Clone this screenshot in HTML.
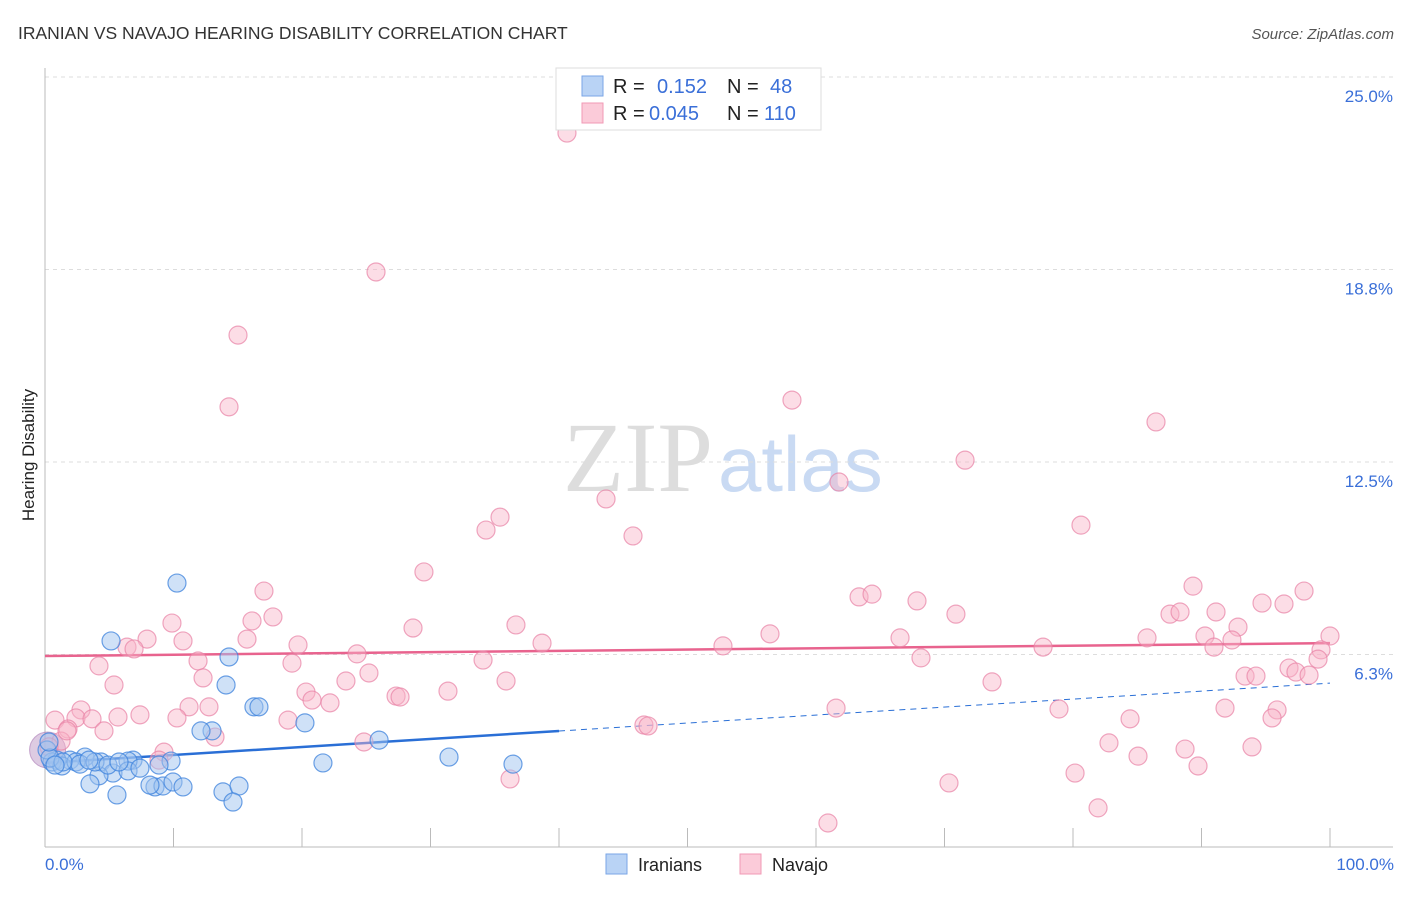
<!DOCTYPE html>
<html><head><meta charset="utf-8"><style>
body{margin:0;background:#fff;font-family:"Liberation Sans",sans-serif}
svg text{font-family:"Liberation Sans",sans-serif}
</style></head><body>
<svg id="chart" width="1406" height="892" xmlns="http://www.w3.org/2000/svg">
<text x="18" y="39" font-size="17.5" fill="#333">IRANIAN VS NAVAJO HEARING DISABILITY CORRELATION CHART</text>
<text x="1394" y="39" font-size="15" fill="#555" text-anchor="end" font-style="italic">Source: ZipAtlas.com</text>
<g>
<text x="713" y="491" font-size="100" fill="#ddd" text-anchor="end" style="font-family:'Liberation Serif',serif">ZIP</text>
<text x="718" y="491" font-size="78" fill="#c9daf3">atlas</text>
</g>
<g id="grid"></g>
<g id="axes"></g>
<g id="trends"></g>
<g id="pts"></g>
<text transform="translate(34,455) rotate(-90)" font-size="17" fill="#222" text-anchor="middle">Hearing Disability</text>
<text x="45" y="870" font-size="17" fill="#3a6fd8">0.0%</text>
<text x="1394" y="870" font-size="17" fill="#3a6fd8" text-anchor="end">100.0%</text>
<g>
<rect x="556" y="68" width="265" height="62" fill="#fff" stroke="#ddd"/>
<rect x="582" y="76" width="21" height="20" fill="#b9d3f5" stroke="#7aa6e6"/>
<rect x="582" y="103" width="21" height="20" fill="#fbcbd9" stroke="#f09ab5"/>
<text x="613" y="93" font-size="20" fill="#222">R =</text>
<text x="657" y="93" font-size="20" fill="#3a6fd8">0.152</text>
<text x="727" y="93" font-size="20" fill="#222">N =</text>
<text x="770" y="93" font-size="20" fill="#3a6fd8">48</text>
<text x="613" y="120" font-size="20" fill="#222">R =</text>
<text x="649" y="120" font-size="20" fill="#3a6fd8">0.045</text>
<text x="727" y="120" font-size="20" fill="#222">N =</text>
<text x="764" y="120" font-size="20" fill="#3a6fd8">110</text>
</g>
<g>
<rect x="606" y="854" width="21" height="20" fill="#b9d3f5" stroke="#7aa6e6"/>
<text x="638" y="871" font-size="18" fill="#222">Iranians</text>
<rect x="740" y="854" width="21" height="20" fill="#fbcbd9" stroke="#f09ab5"/>
<text x="772" y="871" font-size="18" fill="#222">Navajo</text>
</g>
</svg>
<script>
const yTicks=[6.25,12.5,18.75,25];
const yTickLabels=["6.3%","12.5%","18.8%","25.0%"];
const xTicks=[0,10,20,30,40,50,60,70,80,90,100];
const blueX=[5.14,10.27,14.32,14.09,16.26,16.65,20.23,13.0,12.14,26.0,31.44,36.42,21.63,9.81,8.87,6.85,6.46,4.36,3.11,1.95,0.93,0.54,1.32,0.16,0.39,5.29,4.2,3.5,5.6,6.46,7.39,8.56,9.18,9.96,10.74,13.85,15.1,14.63,2.41,2.72,3.89,4.9,5.76,8.17,1.4,0.78,0.31,3.42];
const blueY=[6.69,8.57,6.17,5.26,4.55,4.55,4.03,3.77,3.77,3.47,2.92,2.69,2.73,2.79,2.66,2.82,2.79,2.76,2.92,2.82,2.82,2.76,2.63,3.15,2.89,2.4,2.31,2.05,1.69,2.47,2.56,1.95,1.98,2.11,1.95,1.79,1.98,1.46,2.76,2.69,2.76,2.66,2.76,2.01,2.76,2.66,3.41,2.82];
const pinkX=[40.62,25.76,15.02,14.32,58.13,86.46,71.6,61.79,43.66,35.41,34.32,45.76,80.62,29.49,17.04,89.34,97.98,63.35,64.36,67.86,70.89,87.55,88.33,91.13,94.71,96.42,9.88,16.11,17.74,36.65,28.64,56.42,92.84,100,66.54,85.76,90.27,92.37,7.94,10.74,15.72,6.38,6.93,19.69,38.68,52.76,77.67,90.97,99.3,24.28,19.22,11.91,34.09,68.17,99.07,4.2,96.81,97.35,98.37,93.39,94.24,25.21,23.42,12.3,5.37,35.88,73.7,20.31,20.78,27.32,27.63,31.36,22.18,11.21,12.76,2.8,61.56,78.91,91.83,95.88,0.78,2.41,3.66,7.39,10.27,5.68,18.91,84.44,95.49,46.61,46.93,4.59,1.79,13.23,1.25,24.82,82.8,93.93,88.72,9.26,8.87,85.06,89.73,80.16,36.19,70.35,81.95,60.93,1.71,0.31];
const pinkY=[23.18,18.67,16.62,14.29,14.51,13.8,12.56,11.85,11.3,10.71,10.29,10.1,10.45,8.93,8.31,8.47,8.31,8.12,8.21,7.99,7.56,7.56,7.63,7.63,7.92,7.89,7.27,7.34,7.47,7.21,7.11,6.92,7.14,6.85,6.79,6.79,6.85,6.72,6.75,6.69,6.75,6.49,6.43,6.56,6.62,6.53,6.49,6.49,6.4,6.27,5.97,6.04,6.07,6.14,6.1,5.88,5.81,5.68,5.58,5.55,5.55,5.65,5.39,5.49,5.26,5.39,5.36,5.03,4.77,4.9,4.87,5.06,4.68,4.55,4.55,4.45,4.51,4.48,4.51,4.45,4.12,4.19,4.16,4.29,4.19,4.22,4.12,4.16,4.19,3.96,3.93,3.77,3.83,3.57,3.44,3.41,3.38,3.25,3.18,3.08,2.82,2.95,2.63,2.4,2.21,2.08,1.27,0.78,3.77,3.25];
const blueTrend=[2.73,5.32];
const pinkTrend=[6.2,6.62];
const NS="http://www.w3.org/2000/svg";
const xs=v=>45+v*12.85, ys=v=>847-v*30.8;
function mk(tag,attrs,parent){const e=document.createElementNS(NS,tag);for(const k in attrs)e.setAttribute(k,attrs[k]);document.getElementById(parent).appendChild(e);return e;}
yTicks.forEach((t,i)=>{
 const l=mk('line',{x1:45,x2:1393,y1:ys(t),y2:ys(t),stroke:'#ddd','stroke-dasharray':'4,4'},'grid');
 
 
 const tx=mk('text',{x:1393,y:ys(t)+25,'font-size':17,fill:'#3a6fd8','text-anchor':'end'},'grid');
 tx.textContent=yTickLabels[i];
 
 
});
const al=mk('line',{x1:45,x2:45,y1:68,y2:847,stroke:'#bbb'},'axes');


const bl=mk('line',{x1:45,x2:1393,y1:847,y2:847,stroke:'#bbb'},'axes');


xTicks.forEach(t=>{
 const l=mk('line',{x1:xs(t),x2:xs(t),y1:828,y2:847,stroke:'#bbb'},'axes');
 
 
});
const bSolidEnd=40;
const bsY=blueTrend[0]+(blueTrend[1]-blueTrend[0])*bSolidEnd/100;
let t1=mk('line',{x1:xs(0),y1:ys(pinkTrend[0]),x2:xs(100),y2:ys(pinkTrend[1]),stroke:'#e8638e','stroke-width':2.5},'trends');


let t2=mk('line',{x1:xs(0),y1:ys(blueTrend[0]),x2:xs(bSolidEnd),y2:ys(bsY),stroke:'#2a6fd6','stroke-width':2.5},'trends');


let t3=mk('line',{x1:xs(bSolidEnd),y1:ys(bsY),x2:xs(100),y2:ys(blueTrend[1]),stroke:'#2a6fd6','stroke-width':1,'stroke-dasharray':'6,5'},'trends');


const big=mk('circle',{cx:xs(0.2),cy:ys(3.15),r:18,fill:'rgba(180,140,190,0.45)',stroke:'rgba(170,120,180,0.6)'},'pts');


pinkX.forEach((x,i)=>{
 const c=mk('circle',{cx:xs(x),cy:ys(pinkY[i]),r:9,fill:'rgba(248,180,200,0.45)',stroke:'rgba(232,130,165,0.7)','stroke-width':1.2},'pts');
 
 
});
blueX.forEach((x,i)=>{
 const c=mk('circle',{cx:xs(x),cy:ys(blueY[i]),r:9,fill:'rgba(160,195,240,0.5)',stroke:'rgba(60,130,220,0.75)','stroke-width':1.2},'pts');
 
 
});
</script>
</body></html>
